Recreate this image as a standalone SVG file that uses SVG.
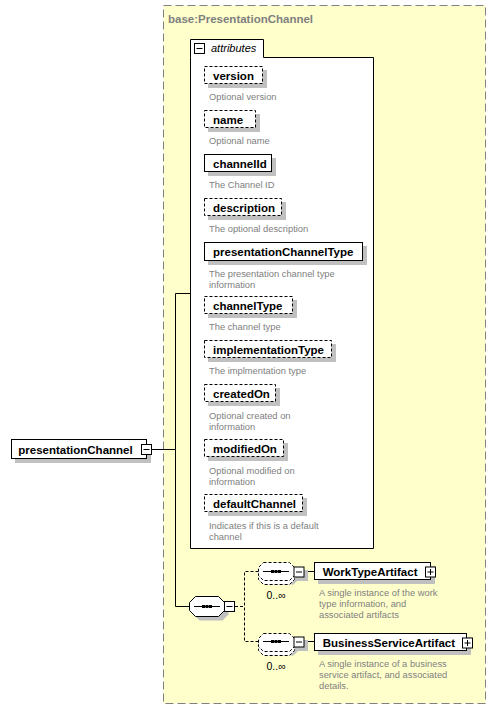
<svg xmlns="http://www.w3.org/2000/svg" width="496" height="708" viewBox="0 0 496 708">
<style>
.bg{fill:#ffffcc;stroke:#808080;stroke-dasharray:8,4}
.sh{fill:#c0c0c0}
.bx{fill:#fff;stroke:#000}
.opt{stroke-dasharray:3,2}
.nm{font-family:"Liberation Sans",Arial,sans-serif;font-weight:bold;font-size:11.5px;fill:#000}
.ds{font-family:"Liberation Sans",Arial,sans-serif;font-size:9.35px;fill:#808080}
.ttl{font-family:"Liberation Sans",Arial,sans-serif;font-weight:bold;font-size:11.5px;fill:#808080}
.occ{font-family:"Liberation Sans",Arial,sans-serif;font-size:10.5px;fill:#000}
.ln{fill:none;stroke:#000}
.dl{fill:none;stroke:#000;stroke-dasharray:3,2}
</style>
<defs>
<g id="minus"><rect x="0.5" y="0.5" width="10" height="10" fill="#fff" stroke="#000"/><path d="M2.5,5.5H8.5" stroke="#000"/></g>
<g id="plus"><rect x="0.5" y="0.5" width="10" height="10" fill="#fff" stroke="#000"/><path d="M2.5,5.5H8.5M5.5,2.5V8.5" stroke="#000"/></g>
<g id="dots"><path d="M0,0.5H26" stroke="#000"/><rect x="8" y="-1" width="3" height="3"/><rect x="11.5" y="-1" width="3" height="3"/><rect x="15" y="-1" width="3" height="3"/></g>
<path id="seqc" d="M263.5,0.5H289.5L294.5,5.5V13.5L289.5,18.5H263.5L258.5,13.5V5.5Z"/>
</defs>

<g id="type-box">
<rect class="bg" x="163.5" y="5.5" width="322" height="698"/>
<text class="ttl" x="168" y="23">base:PresentationChannel</text>
</g>

<g id="connectors">
<path class="ln" d="M152,449.5H175.5V293.5H190.5M175.5,449.5V606.5H189.5"/>
<path class="dl" d="M235,606.5H244.5M258.5,571.5H244.5V641.5H258.5"/>
<path class="ln" d="M305,571.5H314.5M305,641.5H314.5"/>
</g>

<g id="presentationChannel">
<rect class="sh" x="15" y="444" width="136" height="19"/>
<rect class="bx" x="11.5" y="439.5" width="135" height="19"/>
<text class="nm" x="18.3" y="453.5">presentationChannel</text>
<use href="#minus" x="141" y="444"/>
</g>

<g id="attributes">
<path class="bx" d="M190.5,57.5V39.5H263.5V57.5H373.5V548.5H190.5Z"/>
<use href="#minus" x="194" y="43"/>
<text x="211" y="52" font-family="Liberation Sans,Arial,sans-serif" font-style="italic" font-size="11px">attributes</text>
</g>

<g id="version">
<rect class="sh" x="208" y="70" width="59" height="18"/>
<rect class="bx opt" x="204.5" y="66.5" width="58" height="17"/>
<text class="nm" x="213" y="79.5">version</text>
<text class="ds" x="209" y="100">Optional version</text>
</g>
<g id="name">
<rect class="sh" x="208" y="114" width="52" height="18"/>
<rect class="bx opt" x="204.5" y="110.5" width="51" height="17"/>
<text class="nm" x="213" y="123.5">name</text>
<text class="ds" x="209" y="144">Optional name</text>
</g>
<g id="channelId">
<rect class="sh" x="208" y="158" width="68" height="18"/>
<rect class="bx" x="204.5" y="154.5" width="67" height="17"/>
<text class="nm" x="213" y="167.5">channelId</text>
<text class="ds" x="209" y="188">The Channel ID</text>
</g>
<g id="description">
<rect class="sh" x="208" y="202" width="78" height="18"/>
<rect class="bx opt" x="204.5" y="198.5" width="77" height="17"/>
<text class="nm" x="213" y="211.5">description</text>
<text class="ds" x="209" y="232">The optional description</text>
</g>
<g id="presentationChannelType">
<rect class="sh" x="208" y="246" width="159" height="19"/>
<rect class="bx" x="204.5" y="242.5" width="158" height="18"/>
<text class="nm" x="213" y="256">presentationChannelType</text>
<text class="ds" x="209" y="276.5">The presentation channel type</text>
<text class="ds" x="209" y="287.5">information</text>
</g>
<g id="channelType">
<rect class="sh" x="208" y="300" width="89" height="18"/>
<rect class="bx opt" x="204.5" y="296.5" width="88" height="17"/>
<text class="nm" x="213" y="309.5">channelType</text>
<text class="ds" x="209" y="330">The channel type</text>
</g>
<g id="implementationType">
<rect class="sh" x="208" y="344" width="128" height="18"/>
<rect class="bx opt" x="204.5" y="340.5" width="127" height="17"/>
<text class="nm" x="213" y="353.5">implementationType</text>
<text class="ds" x="209" y="374">The implmentation type</text>
</g>
<g id="createdOn">
<rect class="sh" x="208" y="388" width="72" height="18"/>
<rect class="bx opt" x="204.5" y="384.5" width="71" height="17"/>
<text class="nm" x="213" y="397.5">createdOn</text>
<text class="ds" x="209" y="418.5">Optional created on</text>
<text class="ds" x="209" y="429.5">information</text>
</g>
<g id="modifiedOn">
<rect class="sh" x="208" y="443" width="80" height="18"/>
<rect class="bx opt" x="204.5" y="439.5" width="79" height="17"/>
<text class="nm" x="213" y="452.5">modifiedOn</text>
<text class="ds" x="209" y="473.5">Optional modified on</text>
<text class="ds" x="209" y="484.5">information</text>
</g>
<g id="defaultChannel">
<rect class="sh" x="208" y="498" width="99" height="18"/>
<rect class="bx opt" x="204.5" y="494.5" width="98" height="17"/>
<text class="nm" x="213" y="507.5">defaultChannel</text>
<text class="ds" x="209" y="528.5">Indicates if this is a default</text>
<text class="ds" x="209" y="539.5">channel</text>
</g>

<g id="sequence">
<path class="sh" d="M199.5,600.5H222.5L228.5,606.5V614.5L222.5,620.5H199.5L193.5,614.5V606.5Z"/>
<path class="bx" d="M195.5,596.5H218.5L224.5,602.5V610.5L218.5,616.5H195.5L189.5,610.5V602.5Z"/>
<use href="#dots" x="194" y="606"/>
<use href="#minus" x="224" y="601"/>
</g>

<g id="sequence-WorkTypeArtifact">
<use href="#seqc" class="sh" x="4" y="566"/>
<use href="#seqc" class="bx opt" x="0" y="566"/>
<use href="#seqc" class="bx opt" x="0" y="562"/>
<use href="#dots" x="263" y="571"/>
<rect class="sh" x="297" y="570" width="11" height="11"/>
<use href="#minus" x="293.5" y="566.5"/>
<text class="occ" x="266.5" y="598.5">0..∞</text>
</g>

<g id="WorkTypeArtifact">
<rect class="sh" x="318" y="566" width="117" height="18"/>
<rect class="bx" x="314.5" y="562.5" width="116" height="17"/>
<text class="nm" x="322.7" y="575.5">WorkTypeArtifact</text>
<use href="#plus" x="425" y="566.5"/>
<text class="ds" x="319" y="596">A single instance of the work</text>
<text class="ds" x="319" y="607">type information, and</text>
<text class="ds" x="319" y="618">associated artifacts</text>
</g>

<g id="sequence-BusinessServiceArtifact">
<use href="#seqc" class="sh" x="4" y="637"/>
<use href="#seqc" class="bx opt" x="0" y="637"/>
<use href="#seqc" class="bx opt" x="0" y="633"/>
<use href="#dots" x="263" y="641"/>
<rect class="sh" x="297" y="640" width="11" height="11"/>
<use href="#minus" x="293.5" y="636.5"/>
<text class="occ" x="266.5" y="669.5">0..∞</text>
</g>

<g id="BusinessServiceArtifact">
<rect class="sh" x="318" y="637" width="153" height="18"/>
<rect class="bx" x="314.5" y="633.5" width="152" height="17"/>
<text class="nm" x="322.7" y="646.5">BusinessServiceArtifact</text>
<use href="#plus" x="462" y="637.5"/>
<text class="ds" x="319" y="667">A single instance of a business</text>
<text class="ds" x="319" y="678">service artifact, and associated</text>
<text class="ds" x="319" y="689">details.</text>
</g>
</svg>
